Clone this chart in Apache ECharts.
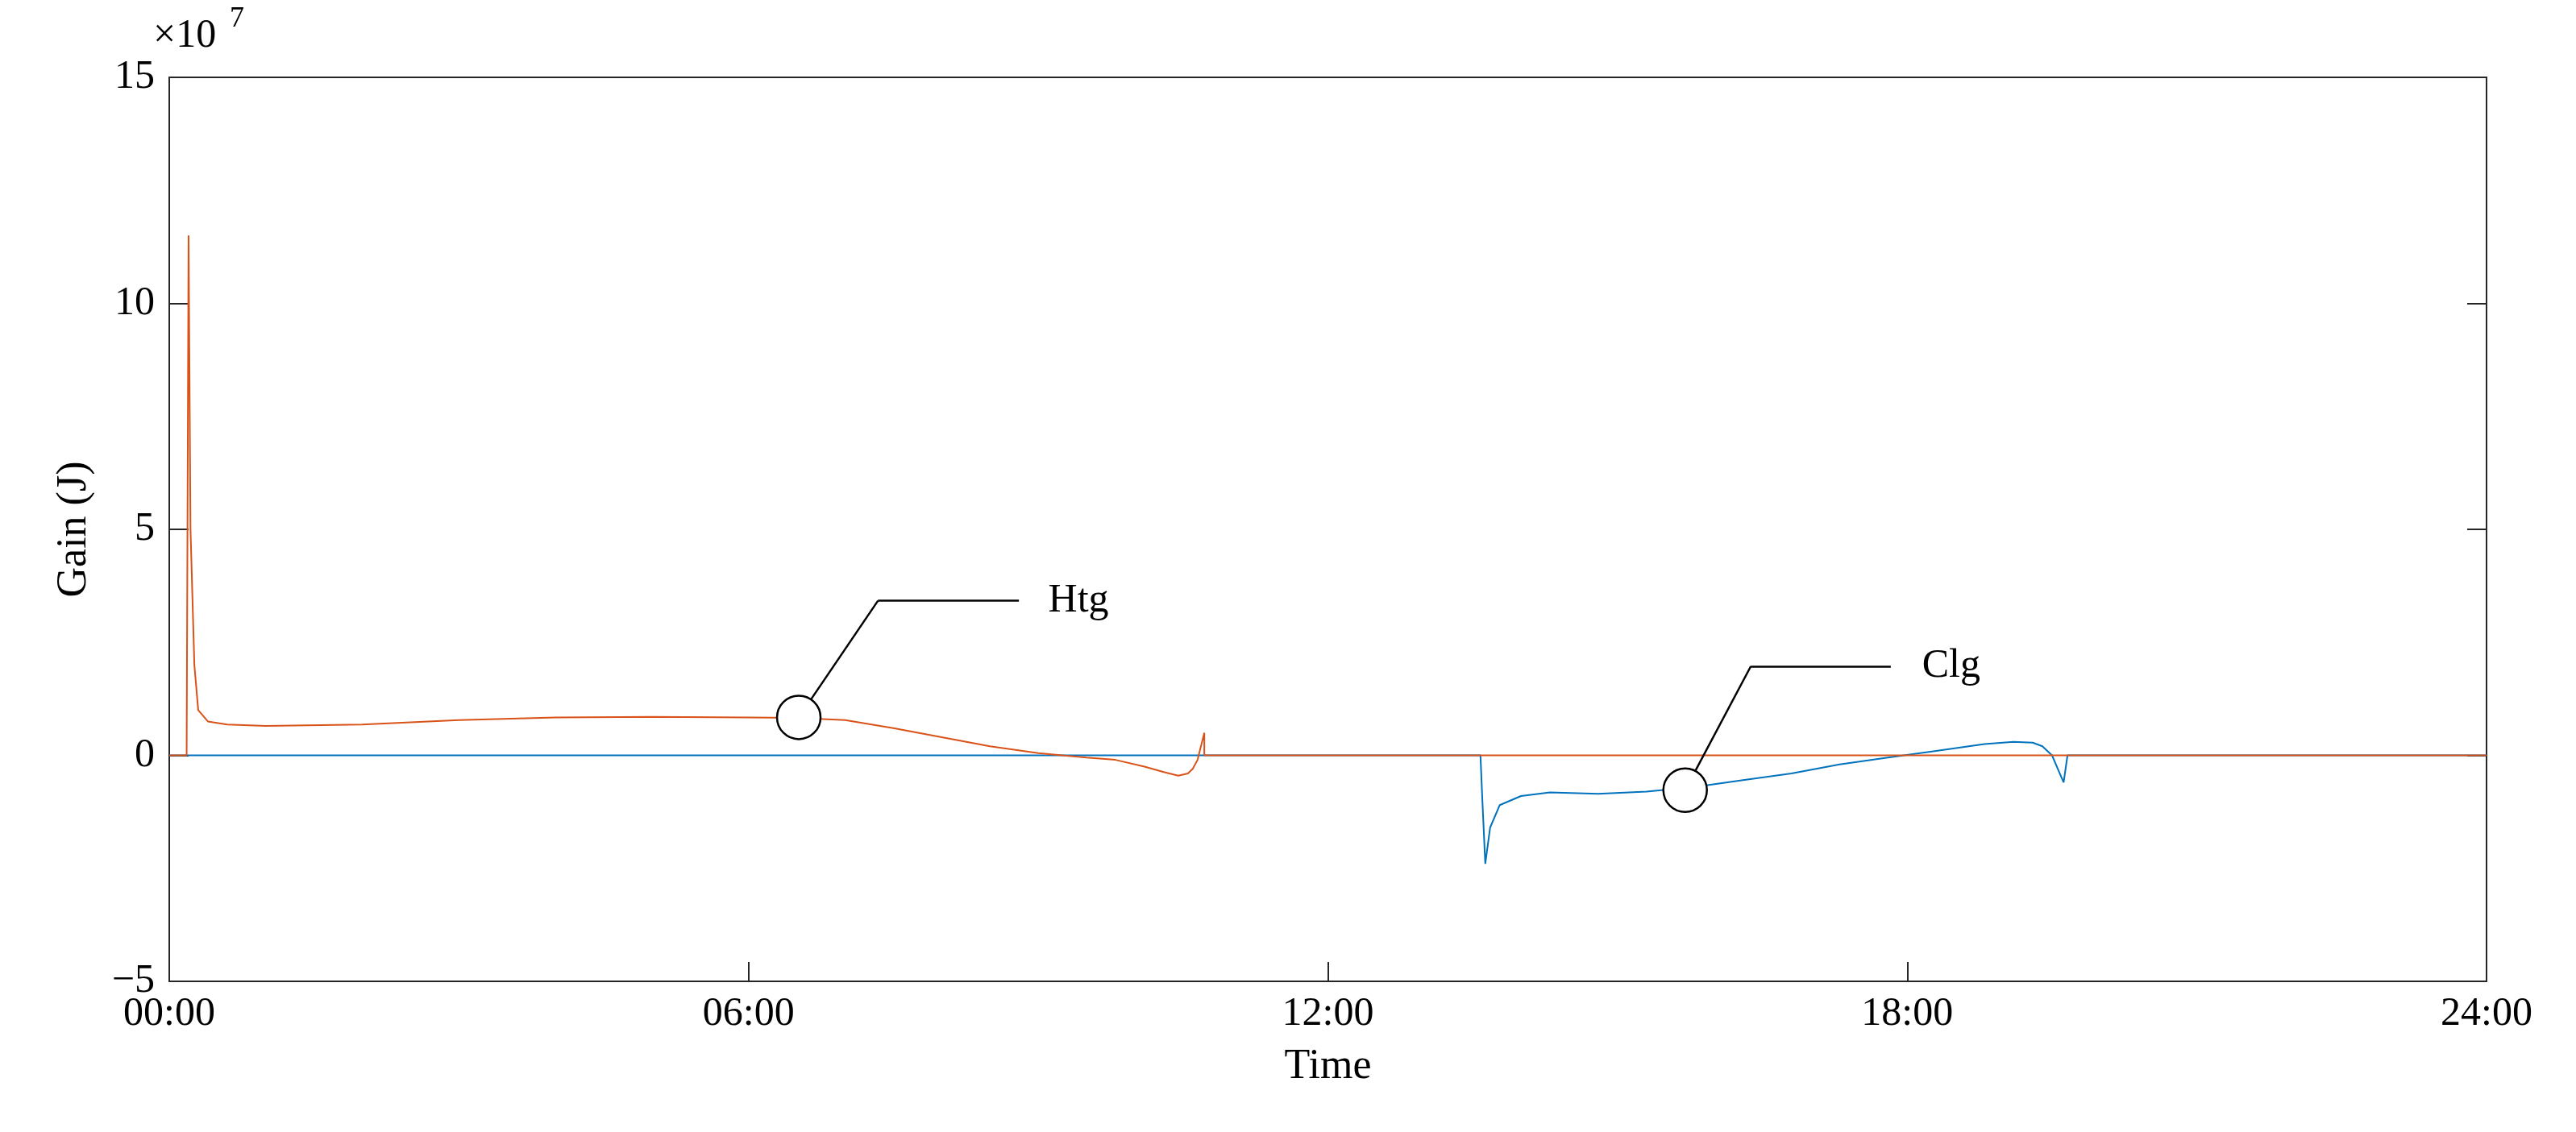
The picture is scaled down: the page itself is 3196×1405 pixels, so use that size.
<!DOCTYPE html>
<html>
<head>
<meta charset="utf-8">
<script src="https://cdn.jsdelivr.net/npm/echarts@6/dist/echarts.min.js"></script>
<style>html,body{margin:0;background:#fff}#chart{width:3196px;height:1405px}</style>
</head>
<body>
<div id="chart"></div>
<script>
// time in hours, gain in units of 1e7 J
const htgTime = [0, 0.18, 0.2, 0.22, 0.26, 0.3, 0.4, 0.6, 1, 2, 3, 4, 5, 6, 6.5, 7, 7.5, 8, 8.5, 9, 9.5, 9.8, 10.1, 10.3, 10.45, 10.55, 10.6, 10.65, 10.72, 10.72, 24];
const htgGain = [0, 0, 11.5, 5, 2, 1, 0.75, 0.68, 0.65, 0.68, 0.78, 0.84, 0.85, 0.84, 0.83, 0.78, 0.6, 0.4, 0.2, 0.05, -0.05, -0.1, -0.25, -0.37, -0.45, -0.4, -0.3, -0.1, 0.5, 0, 0];
const clgTime = [0, 13.58, 13.6, 13.63, 13.68, 13.78, 14, 14.3, 14.8, 15.3, 15.8, 16.3, 16.8, 17.3, 17.8, 18.3, 18.8, 19.1, 19.3, 19.4, 19.5, 19.56, 19.62, 19.66, 24];
const clgGain = [0, 0, -1, -2.4, -1.6, -1.1, -0.9, -0.82, -0.85, -0.8, -0.7, -0.55, -0.4, -0.2, -0.05, 0.1, 0.25, 0.3, 0.28, 0.2, 0, -0.3, -0.6, 0, 0];

const labelNames = ['Htg', 'Clg'];
const circlePos = [[6.52, 0.84], [15.7, -0.77]];
const elbowPos = [[7.34, 3.42], [16.38, 1.97]];
const endPos = [[8.8, 3.42], [17.83, 1.97]];
const textPos = [[9.1, 3.42], [18.15, 1.97]];

const pairs = (t, v) => t.map((x, i) => [x, v[i]]);
const font = 'Liberation Serif';

const chart = echarts.init(document.getElementById('chart'));

const leaderLines = [];
const circles = [];
labelNames.forEach((name, i) => {
    leaderLines.push([{ coord: circlePos[i] }, { coord: elbowPos[i] }]);
    leaderLines.push([{ coord: elbowPos[i] }, { coord: endPos[i] }]);
    circles.push({ coord: circlePos[i], symbol: 'circle', symbolSize: 54,
        itemStyle: { color: '#fff', borderColor: '#000', borderWidth: 2.5 }, label: { show: false } });
    circles.push({ coord: textPos[i], symbol: 'circle', symbolSize: 1,
        itemStyle: { color: 'rgba(0,0,0,0)' },
        label: { show: true, formatter: name, position: 'right', distance: 0, color: '#000', fontFamily: font, fontSize: 50 } });
});

const axisCommon = {
    axisLine: { show: true, onZero: false, lineStyle: { color: '#262626', width: 2 } },
    axisTick: { show: true, inside: true, length: 24, lineStyle: { color: '#262626', width: 2 } },
    splitLine: { show: false },
};

chart.setOption({
    backgroundColor: '#fff',
    animation: false,
    grid: { left: 210, right: 111, top: 96, bottom: 187 },
    xAxis: [{
        type: 'value', min: 0, max: 24, interval: 6,
        name: 'Time', nameLocation: 'middle', nameGap: 80,
        nameTextStyle: { fontFamily: font, fontSize: 52, color: '#000' },
        axisLabel: { fontFamily: font, fontSize: 50, color: '#000', margin: 16,
            formatter: v => String(v).padStart(2, '0') + ':00' },
        ...axisCommon,
    }, {
        type: 'value', min: 0, max: 24, interval: 6, position: 'top',
        axisLabel: { show: false }, ...axisCommon, axisTick: { show: false },
    }],
    yAxis: [{
        type: 'value', min: -5, max: 15, interval: 5,
        name: 'Gain (J)', nameLocation: 'middle', nameGap: 92,
        nameTextStyle: { fontFamily: font, fontSize: 52, color: '#000' },
        axisLabel: { fontFamily: font, fontSize: 50, color: '#000', margin: 18,
            formatter: v => String(v).replace('-', '−') },
        ...axisCommon,
    }, {
        type: 'value', min: -5, max: 15, interval: 5, position: 'right',
        axisLabel: { show: false }, ...axisCommon,
    }],
    graphic: [{
        type: 'text', left: 190, top: 20,
        style: { text: '×10', font: '50px "Liberation Serif"', fill: '#000' },
    }, {
        type: 'text', left: 285, top: 6,
        style: { text: '7', font: '36px "Liberation Serif"', fill: '#000' },
    }],
    series: [{
        name: 'Clg', type: 'line', data: pairs(clgTime, clgGain), showSymbol: false,
        lineStyle: { color: '#0072BD', width: 2 }, z: 2,
    }, {
        name: 'Htg', type: 'line', data: pairs(htgTime, htgGain), showSymbol: false,
        lineStyle: { color: '#D95319', width: 2 }, z: 3,
        markLine: { symbol: ['none', 'none'], silent: true, label: { show: false },
            lineStyle: { color: '#000', width: 2.5, type: 'solid' }, data: leaderLines },
        markPoint: { silent: true, data: circles },
    }],
});
</script>
</body>
</html>
